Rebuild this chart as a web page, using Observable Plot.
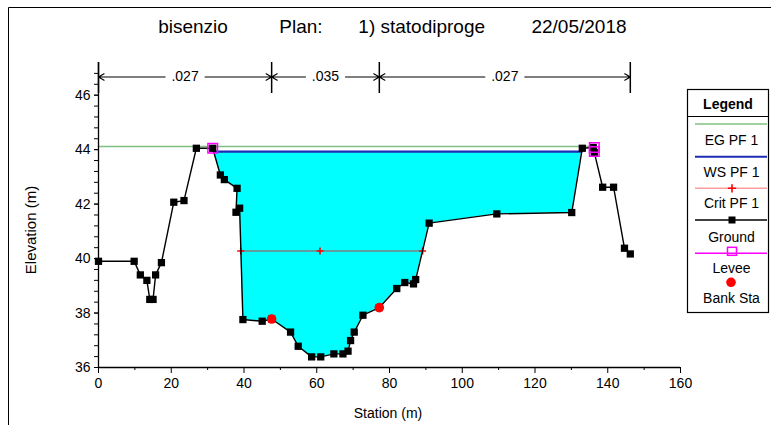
<!DOCTYPE html>
<html><head><meta charset="utf-8">
<script src="https://cdn.jsdelivr.net/npm/d3@7"></script>
<script src="https://cdn.jsdelivr.net/npm/@observablehq/plot@0.6"></script>
<style>
html,body{margin:0;padding:0;background:#fff;overflow:hidden;}
#wrap{position:relative;width:771px;height:425px;font-family:"Liberation Sans",Arial,sans-serif;}
#wrap svg{position:absolute;left:0;top:0;}
#overlay{pointer-events:none;}
</style>
</head><body>
<div id="wrap"></div>
<script>
// ---- data ----
const titleParts = ["bisenzio", "Plan:", "1) statodiproge", "22/05/2018"];
const xLabel = "Station (m)";
const yLabel = "Elevation (m)";
const groundSta  = [0, 9.8, 11.5, 13.3, 14.1, 15.0, 15.7, 17.3, 20.7, 23.5, 26.9, 31.4, 33.5, 34.6, 38.1, 37.8, 38.8, 39.7, 45.0, 47.6, 52.8, 54.9, 58.6, 61.1, 64.7, 67.2, 68.6, 69.3, 70.3, 72.7, 77.2, 82.0, 84.2, 86.6, 87.2, 90.9, 109.5, 130.1, 133.0, 136.0, 136.3, 138.6, 141.6, 144.6, 146.2];
const groundElev = [39.9, 39.9, 39.4, 39.2, 38.5, 38.5, 39.4, 39.85, 42.07, 42.13, 44.05, 44.05, 43.07, 42.9, 42.58, 41.7, 41.85, 37.76, 37.7, 37.78, 37.3, 36.78, 36.39, 36.39, 36.5, 36.5, 36.6, 36.99, 37.3, 37.92, 38.2, 38.9, 39.12, 39.07, 39.23, 41.3, 41.64, 41.69, 44.05, 44.08, 43.9, 42.62, 42.62, 40.38, 40.17];
const leveeSta  = [31.4, 136.3, 136.3];
const leveeElev = [44.05, 44.08, 43.93];
const bankSta  = [47.6, 77.2];
const bankElev = [37.78, 38.2];
const nBreaks = [0, 47.6, 77.2, 146.2];
const nValues = [".027", ".035", ".027"];
const wsElev = 43.93;
const egElev = 44.12;
const egRange = [0, 136.3];
const critElev = 40.28;
const critSta = [39.1, 60.9, 89.1];
const xTicks = [0, 20, 40, 60, 80, 100, 120, 140, 160];
const yTicks = [36, 38, 40, 42, 44, 46];
const legendItems = ["EG PF 1", "WS PF 1", "Crit PF 1", "Ground", "Levee", "Bank Sta"];

// ---- derived tables ----
const ground = groundSta.map((s, i) => ({sta: s, elev: groundElev[i]}));
const levee = leveeSta.map((s, i) => ({sta: s, elev: leveeElev[i]}));
const banks = bankSta.map((s, i) => ({sta: s, elev: bankElev[i]}));
const crit = critSta.map(s => ({sta: s, elev: critElev}));
const eg = egRange.map(s => ({sta: s, elev: egElev}));

// water polygon between levees: crossings of WS with ground
const startIdx = groundSta.indexOf(leveeSta[0]);
let iL = startIdx;
while (!(ground[iL].elev >= wsElev && ground[iL + 1].elev < wsElev)) iL++;
let iR = ground.length - 2;
while (!(ground[iR].elev < wsElev && ground[iR + 1].elev >= wsElev)) iR--;
const cross = (a, b) => a.sta + (wsElev - a.elev) / (b.elev - a.elev) * (b.sta - a.sta);
const xL = cross(ground[iL], ground[iL + 1]);
const xR = cross(ground[iR], ground[iR + 1]);
const water = [{sta: xL, elev: wsElev}, ...ground.slice(iL + 1, iR + 1), {sta: xR, elev: wsElev}];
const ws = [{sta: xL, elev: wsElev}, {sta: xR, elev: wsElev}];

// n-value annotation segments
const W = 771, H = 425, mL = 98, mR = 91, mT = 62, mB = 58;
const yDomain = [36, 47.2];
const pxPerUnit = (H - mT - mB) / (yDomain[1] - yDomain[0]);
const nLevel = yDomain[1] - 14.5 / pxPerUnit;
const nBarBottom = yDomain[1] - 31 / pxPerUnit;
const nSegs = nValues.map((v, i) => ({label: v, a: nBreaks[i], b: nBreaks[i + 1], mid: (nBreaks[i] + nBreaks[i + 1]) / 2}));
const arrows = nSegs.flatMap(d => [{x1: d.mid, x2: d.a}, {x1: d.mid, x2: d.b}]);

const minorY = d3.range(36, 47.1, 0.4);
const minorX = d3.range(10, 160, 20);

const chart = Plot.plot({
  width: W, height: H,
  marginLeft: mL, marginRight: mR, marginTop: mT, marginBottom: mB,
  x: {domain: [0, 160]},
  y: {domain: yDomain},
  style: {fontFamily: "'Liberation Sans', Arial, sans-serif", fontSize: "14px", color: "#000", background: "transparent", overflow: "visible"},
  marks: [
    Plot.areaY(water, {x: "sta", y1: "elev", y2: () => wsElev, fill: "#00ffff", curve: "linear"}),
    Plot.line(eg, {x: "sta", y: "elev", stroke: "#80c080", strokeWidth: 1.5}),
    Plot.line(ws, {x: "sta", y: "elev", stroke: "#1c2db4", strokeWidth: 2.2}),
    Plot.line(crit, {x: "sta", y: "elev", stroke: "#808080", strokeWidth: 1.5}),
    Plot.dot(crit, {x: "sta", y: "elev", symbol: "plus", r: 2.4, stroke: "red", strokeWidth: 1.6}),
    Plot.line(ground, {x: "sta", y: "elev", stroke: "black", strokeWidth: 1.4}),
    Plot.dot(ground, {x: "sta", y: "elev", symbol: "square", r: 4.1, fill: "black"}),
    Plot.dot(banks, {x: "sta", y: "elev", r: 4.8, fill: "red"}),
    Plot.dot(levee, {x: "sta", y: "elev", symbol: "square", r: 5.4, fill: "none", stroke: "#ff00ff", strokeWidth: 1.5}),
    // axes
    Plot.axisY({ticks: minorY, tickSize: 4, tickFormat: () => "", label: null}),
    Plot.axisY({ticks: yTicks, tickSize: 4, tickPadding: 4, label: null}),
    Plot.axisX({ticks: minorX, tickSize: 3, tickFormat: () => "", label: null}),
    Plot.axisX({ticks: xTicks, tickSize: 6, tickPadding: 5, label: null}),
    Plot.ruleX([0], {stroke: "black", strokeWidth: 1.3}),
    Plot.ruleY([36], {stroke: "black", strokeWidth: 1.3}),
    // Manning's n annotation
    Plot.ruleX(nBreaks, {x: d => d, y1: () => nBarBottom, y2: () => yDomain[1], stroke: "black", strokeWidth: 1.5}),
    Plot.arrow(arrows, {x1: "x1", x2: "x2", y1: () => nLevel, y2: () => nLevel, insetStart: 20, headLength: 8, stroke: "black", strokeWidth: 1.2}),
    Plot.text(nSegs, {x: "mid", y: () => nLevel, text: "label", fontSize: 14, fill: "black"})
  ]
});
document.getElementById("wrap").appendChild(chart);

// ---- overlay: frame, title, axis labels, legend ----
const ov = d3.select("#wrap").append("svg").attr("id", "overlay").attr("width", W).attr("height", H)
  .style("font-family", "'Liberation Sans', Arial, sans-serif");
ov.append("path").attr("d", `M8.5,${H}V7.5H${W}`).attr("fill", "none").attr("stroke", "black");
const titleX = [193, 301, 421.7, 579];
ov.selectAll("text.title").data(titleParts).join("text").attr("class", "title")
  .attr("x", (d, i) => titleX[i]).attr("y", 33).attr("text-anchor", "middle").attr("font-size", 19).text(d => d);
ov.append("text").attr("x", 388).attr("y", 418).attr("text-anchor", "middle").attr("font-size", 14).text(xLabel);
ov.append("text").attr("transform", "translate(35.5,230) rotate(-90)").attr("text-anchor", "middle").attr("font-size", 15).text(yLabel);

const lg = ov.append("g");
lg.append("rect").attr("x", 687.5).attr("y", 89.5).attr("width", 81).attr("height", 223).attr("fill", "white").attr("stroke", "black").attr("stroke-width", 1.2);
lg.append("line").attr("x1", 687.5).attr("x2", 768.5).attr("y1", 116.5).attr("y2", 116.5).attr("stroke", "black").attr("stroke-width", 1.2);
lg.append("text").attr("x", 728).attr("y", 108.5).attr("text-anchor", "middle").attr("font-size", 14).attr("font-weight", "bold").text("Legend");
const lineY = [124, 156.7, 188.3, 220, 253.3, 282.3];
const textY = [145, 177.3, 208.3, 241.7, 272.7, 302.7];
const cx = 732;
legendItems.forEach((t, i) => {
  lg.append("text").attr("x", 731.5).attr("y", textY[i]).attr("text-anchor", "middle").attr("font-size", 14).text(t);
});
const ln = (y, c, w) => lg.append("line").attr("x1", 695).attr("x2", 767).attr("y1", y).attr("y2", y).attr("stroke", c).attr("stroke-width", w);
ln(lineY[0], "#80c080", 1.5);
ln(lineY[1], "#1c2db4", 2);
ln(lineY[2], "#ffa0a0", 1.5);
lg.append("path").attr("d", d3.symbol(d3.symbolPlus, 24)()).attr("transform", `translate(${cx},${lineY[2]})`).attr("stroke", "red").attr("stroke-width", 1.6).attr("fill", "none");
ln(lineY[3], "black", 1.4);
lg.append("rect").attr("x", cx - 3.5).attr("y", lineY[3] - 3.5).attr("width", 7).attr("height", 7).attr("fill", "black");
ln(lineY[4], "#ff00ff", 1.5);
lg.append("rect").attr("x", cx - 4.5).attr("y", lineY[4] - 6).attr("width", 9).attr("height", 8).attr("fill", "none").attr("stroke", "#ff00ff").attr("stroke-width", 1.5);
lg.append("circle").attr("cx", 731).attr("cy", lineY[5]).attr("r", 4.8).attr("fill", "red");
</script>
</body></html>
